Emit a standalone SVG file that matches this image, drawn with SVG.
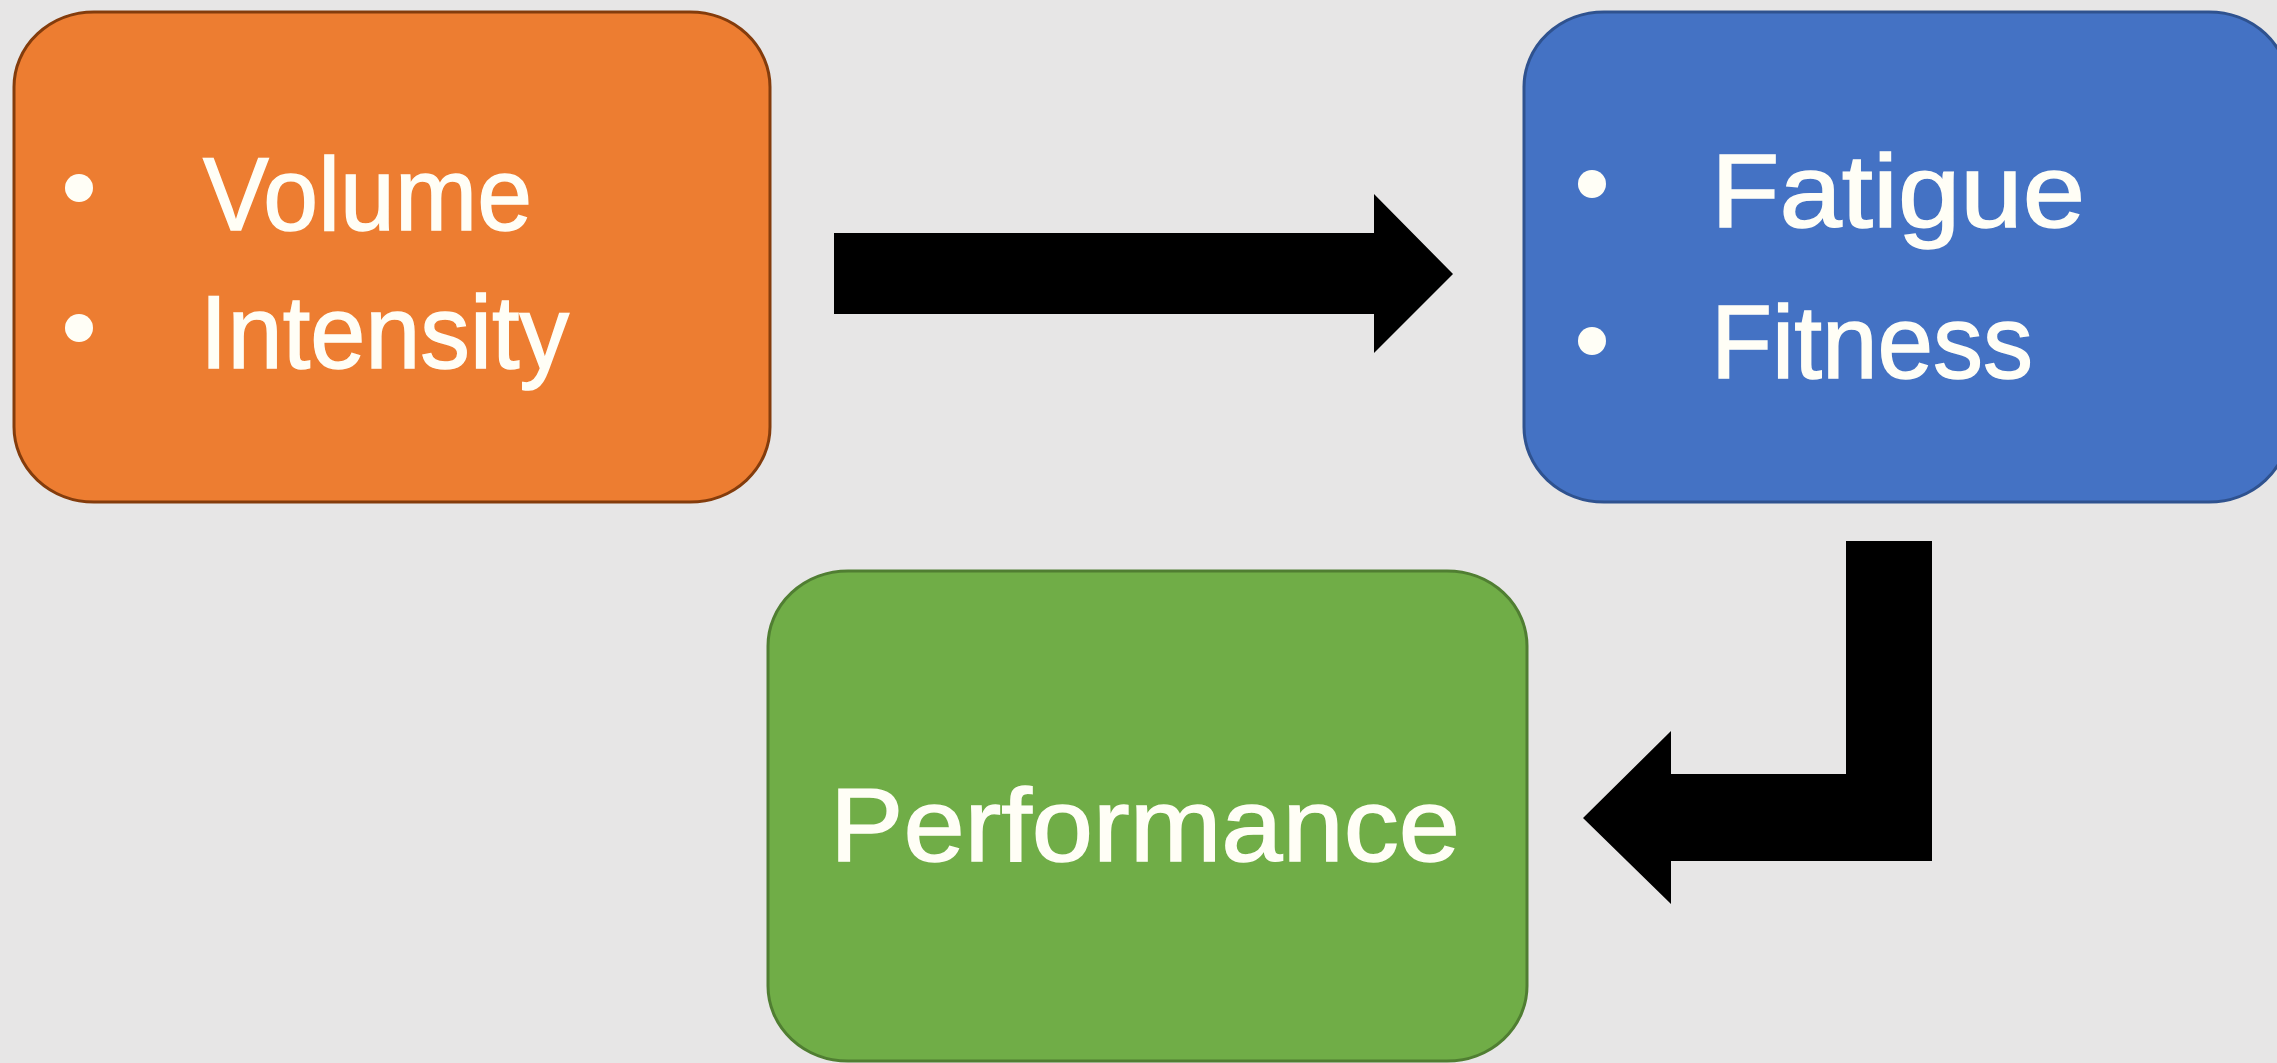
<svg xmlns="http://www.w3.org/2000/svg" width="2277" height="1063" viewBox="0 0 2277 1063">
<style>
.box{stroke-width:3}
.txt{font-family:"Liberation Sans",Arial,sans-serif;font-size:104px;fill:#fffef6;stroke:#fffef6;stroke-width:1.5}
.bul{fill:#fffef6}
.conn{fill:#000000}
</style>
<rect x="0" y="0" width="2277" height="1063" fill="#e7e6e6"/>
<g id="node-input">
<rect class="box" x="14" y="12" width="756" height="490" rx="80" ry="75" fill="#ed7d31" stroke="#843c0c"/>
<circle class="bul" cx="79" cy="188" r="14"/>
<circle class="bul" cx="79" cy="328" r="14"/>
<text class="txt" x="203" y="230" textLength="329" lengthAdjust="spacingAndGlyphs">Volume</text>
<text class="txt" x="200" y="368" textLength="369" lengthAdjust="spacingAndGlyphs">Intensity</text>
</g>
<g id="node-response">
<rect class="box" x="1524" y="12" width="765" height="490" rx="80" ry="75" fill="#4472c4" stroke="#2f528f"/>
<circle class="bul" cx="1592" cy="184" r="14"/>
<circle class="bul" cx="1592" cy="341" r="14"/>
<text class="txt" x="1711" y="227" textLength="374" lengthAdjust="spacingAndGlyphs">Fatigue</text>
<text class="txt" x="1711" y="378" textLength="322" lengthAdjust="spacingAndGlyphs">Fitness</text>
</g>
<g id="node-performance">
<rect class="box" x="768" y="571" width="759" height="490" rx="80" ry="75" fill="#70ad47" stroke="#507e32"/>
<text class="txt" x="830" y="861" textLength="630" lengthAdjust="spacingAndGlyphs">Performance</text>
</g>
<g id="connectors">
<polygon class="conn" points="834,233 1374,233 1374,194 1453,274 1374,353 1374,314 834,314"/>
<polygon class="conn" points="1846,541 1932,541 1932,861 1671,861 1671,904 1583,818 1671,731 1671,774 1846,774"/>
</g>
</svg>
